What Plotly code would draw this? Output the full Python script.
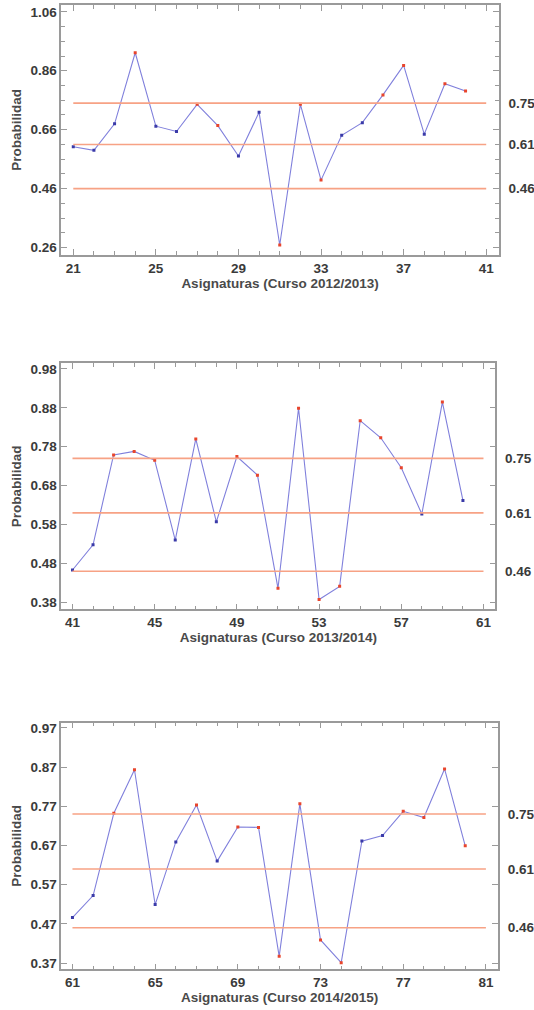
import plotly.graph_objects as go

# ---------------- data ----------------
subjects_1 = [21, 22, 23, 24, 25, 26, 27, 28, 29, 30, 31, 32, 33, 34, 35, 36, 37, 38, 39, 40]
prob_1 = [0.602, 0.590, 0.680, 0.921, 0.672, 0.654, 0.746, 0.674, 0.571, 0.719,
          0.269, 0.746, 0.489, 0.641, 0.684, 0.778, 0.878, 0.645, 0.816, 0.791]
flag_1 = list("BBBRBBRRBBRRRBBRRBRR")

subjects_2 = [41, 42, 43, 44, 45, 46, 47, 48, 49, 50, 51, 52, 53, 54, 55, 56, 57, 58, 59, 60]
prob_2 = [0.463, 0.528, 0.759, 0.768, 0.745, 0.540, 0.800, 0.587, 0.755, 0.707,
          0.416, 0.879, 0.387, 0.421, 0.847, 0.803, 0.726, 0.607, 0.895, 0.642]
flag_2 = list("BBRRRBRBRRRRRRRRRBRB")

subjects_3 = [61, 62, 63, 64, 65, 66, 67, 68, 69, 70, 71, 72, 73, 74, 75, 76, 77, 78, 79, 80]
prob_3 = [0.486, 0.542, 0.752, 0.863, 0.519, 0.679, 0.773, 0.630, 0.717, 0.716,
          0.387, 0.776, 0.429, 0.371, 0.681, 0.695, 0.757, 0.741, 0.865, 0.669]
flag_3 = list("BBRRBBRBRRRRRRBBRRRR")

limits = [0.46, 0.61, 0.75]          # LCL, CL, UCL
limit_labels = ["0.46", "0.61", "0.75"]
limit_span = [[21, 41], [41, 61], [61, 81]]
x_titles = ["Asignaturas (Curso 2012/2013)",
            "Asignaturas (Curso 2013/2014)",
            "Asignaturas (Curso 2014/2015)"]
y_title = "Probabilidad"

x_tick0 = [21, 41, 61]
y_tick0 = [0.26, 0.38, 0.37]
y_dtick = [0.2, 0.1, 0.1]
y_minor = [0.05, None, None]

# ---------------- layout geometry ----------------
W, H = 534, 1010
x_ranges = [[20.42, 41.61], [40.455, 61.58], [60.46, 81.59]]
y_ranges = [[0.235, 1.083], [0.362, 0.9946], [0.354, 0.983]]
x_dom = [[61.3 / W, 498.8 / W], [61.3 / W, 495.4 / W], [61.3 / W, 498.1 / W]]
y_dom = [[1 - 255 / H, 1 - 5 / H], [1 - 609.3 / H, 1 - 363.3 / H], [1 - 969.3 / H, 1 - 722.7 / H]]

FONT = "Liberation Sans, Arial, sans-serif"
TXT = "#3a3a3a"
FRAME = "#9a9a9a"
LINE_C = "#8080DC"
LIM_C = "#F7A285"
COL = {"R": "#E8452C", "B": "#3A3AA8"}

fig = go.Figure()
data = [(subjects_1, prob_1, flag_1), (subjects_2, prob_2, flag_2), (subjects_3, prob_3, flag_3)]

layout = dict(width=W, height=H, margin=dict(l=0, r=0, t=0, b=0),
              paper_bgcolor="white", plot_bgcolor="white", showlegend=False,
              font=dict(family=FONT, color=TXT, size=13.5))

for i, (xs, ys, fl) in enumerate(data):
    n = i + 1
    xa = "x" if n == 1 else f"x{n}"
    ya = "y" if n == 1 else f"y{n}"
    ya_r = f"y{n + 3}"
    # control limits (drawn on the right-hand axis that labels them)
    for lv in limits:
        fig.add_trace(go.Scatter(x=limit_span[i], y=[lv, lv], mode="lines",
                                 line=dict(color=LIM_C, width=1.6),
                                 xaxis=xa, yaxis=ya_r, hoverinfo="skip"))
    # series
    fig.add_trace(go.Scatter(x=xs, y=ys, mode="lines+markers",
                             line=dict(color=LINE_C, width=1.1),
                             marker=dict(symbol="square", size=3,
                                         color=[COL[f] for f in fl],
                                         line=dict(width=0)),
                             xaxis=xa, yaxis=ya))

    common = dict(showgrid=False, zeroline=False, showline=True, linecolor=FRAME,
                  linewidth=1.5, mirror="ticks", ticks="inside", ticklen=6,
                  tickwidth=1.2, tickcolor=FRAME,
                  tickfont=dict(family=FONT, size=13.5, color=TXT, weight="bold"),
                  automargin=False)
    xkey = "xaxis" if n == 1 else f"xaxis{n}"
    ykey = "yaxis" if n == 1 else f"yaxis{n}"
    layout[xkey] = dict(common, domain=x_dom[i], range=x_ranges[i], anchor=ya,
                        tick0=x_tick0[i], dtick=4,
                        minor=dict(ticks="inside", tick0=x_tick0[i], dtick=1, ticklen=4,
                                   tickwidth=1.1, tickcolor=FRAME, showgrid=False),
                        title=dict(text=x_titles[i], standoff=3,
                                   font=dict(family=FONT, size=13.5, color="#4a4a4a", weight="bold")))
    ydict = dict(common, domain=y_dom[i], range=y_ranges[i], anchor=xa,
                 tick0=y_tick0[i], dtick=y_dtick[i], tickformat=".2f",
                 title=dict(text=y_title, standoff=6,
                            font=dict(family=FONT, size=13.5, color="#4a4a4a", weight="bold")))
    if y_minor[i]:
        ydict["minor"] = dict(ticks="inside", tick0=y_tick0[i], dtick=y_minor[i], ticklen=4,
                              tickwidth=1.1, tickcolor=FRAME, showgrid=False)
    layout[ykey] = ydict
    layout[f"yaxis{n + 3}"] = dict(overlaying=ya, anchor=xa, side="right", range=y_ranges[i],
                                   tickmode="array", tickvals=limits, ticktext=limit_labels,
                                   showgrid=False, zeroline=False, showline=False,
                                   ticks="outside", ticklen=6, tickcolor="rgba(0,0,0,0)",
                                   tickfont=dict(family=FONT, size=13.5, color=TXT, weight="bold"),
                                   automargin=False)

fig.update_layout(**layout)
fig.write_html("out.html", config={"displayModeBar": False},
               post_script="document.body.style.margin='0';")
